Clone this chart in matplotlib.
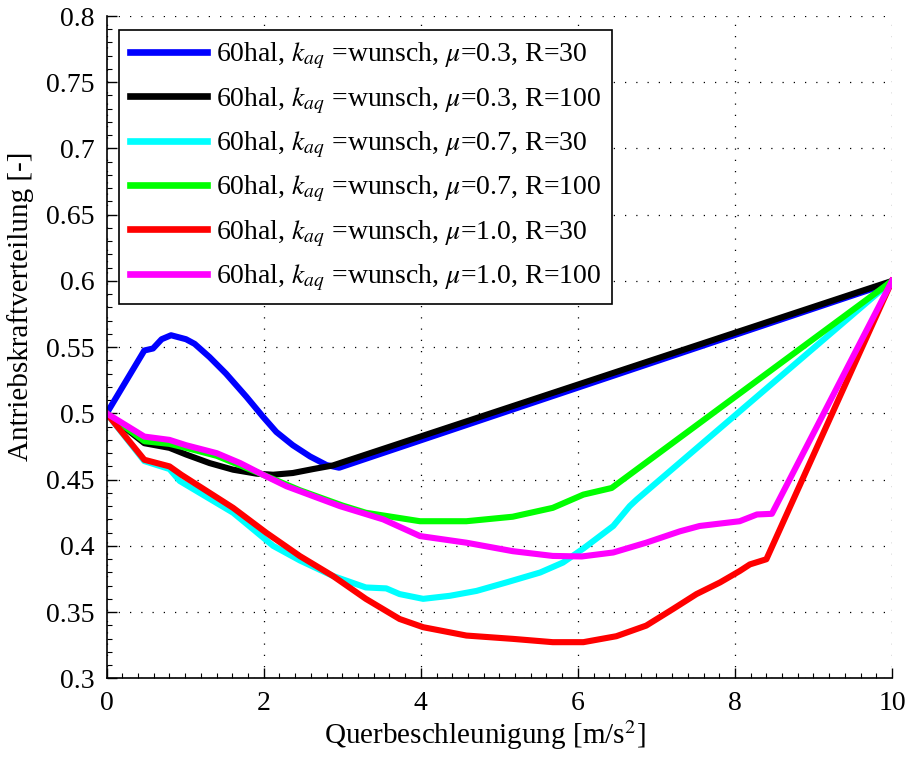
import matplotlib
matplotlib.use('Agg')
import matplotlib.pyplot as plt
from matplotlib.ticker import MultipleLocator

plt.rcParams['font.family'] = 'Liberation Serif'
plt.rcParams['mathtext.fontset'] = 'stix'
plt.rcParams['font.size'] = 20

# mu=0.3, R=30
x_b = [0, 0.48, 0.59, 0.70, 0.82, 1.01, 1.12, 1.31, 1.52, 1.78, 1.99, 2.16,
       2.37, 2.59, 2.80, 2.96, 10]
y_b = [0.5, 0.5475, 0.549, 0.556, 0.559, 0.556, 0.5525, 0.5425, 0.530,
       0.5125, 0.4975, 0.486, 0.476, 0.4675, 0.461, 0.459, 0.599]
# mu=0.3, R=100
x_k = [0, 0.48, 0.80, 1.01, 1.31, 1.61, 1.91, 2.12, 2.37, 2.63, 2.88, 10]
y_k = [0.5, 0.4775, 0.474, 0.469, 0.4625, 0.4575, 0.4545, 0.4537, 0.455,
       0.458, 0.4607, 0.6]
# mu=0.7, R=30
x_c = [0, 0.48, 0.80, 0.93, 1.61, 2.12, 2.46, 2.88, 3.30, 3.56, 3.73, 4.03,
       4.37, 4.71, 5.09, 5.52, 5.81, 6.07, 6.45, 6.66, 6.75, 10]
y_c = [0.5, 0.464, 0.458, 0.449, 0.425, 0.40, 0.389, 0.3773, 0.3686, 0.3679,
       0.3636, 0.36, 0.3623, 0.366, 0.3724, 0.3799, 0.3874, 0.398, 0.415,
       0.43, 0.435, 0.6]
# mu=0.7, R=100
x_g = [0, 0.48, 0.80, 1.01, 1.40, 2.0, 2.46, 3.0, 3.30, 3.99, 4.58, 5.17,
       5.68, 6.07, 6.43, 10]
y_g = [0.5, 0.479, 0.477, 0.474, 0.468, 0.4535, 0.442, 0.4305, 0.425,
       0.4186, 0.4186, 0.422, 0.4287, 0.4387, 0.4437, 0.6]
# mu=1.0, R=30
x_r = [0, 0.48, 0.80, 0.95, 1.61, 2.03, 2.46, 2.88, 3.30, 3.73, 4.03, 4.58,
       5.17, 5.68, 6.07, 6.49, 6.87, 7.21, 7.51, 7.81, 8.06, 8.19, 8.40, 10]
y_r = [0.5, 0.465, 0.46, 0.4537, 0.4287, 0.41, 0.3923, 0.3773, 0.36, 0.3448,
       0.3386, 0.3323, 0.3298, 0.3273, 0.3273, 0.3318, 0.3398, 0.3523,
       0.3636, 0.3724, 0.381, 0.386, 0.3899, 0.6]
# mu=1.0, R=100
x_m = [0, 0.48, 0.80, 1.01, 1.40, 1.70, 1.99, 2.29, 2.63, 2.97, 3.52, 3.99,
       4.58, 5.17, 5.68, 6.05, 6.45, 6.87, 7.30, 7.55, 8.06, 8.28, 8.47, 10]
y_m = [0.5, 0.4825, 0.48, 0.476, 0.47, 0.4625, 0.4537, 0.445, 0.4375, 0.43,
       0.42, 0.4074, 0.4024, 0.396, 0.3924, 0.392, 0.395, 0.4024, 0.411,
       0.415, 0.4186, 0.4237, 0.4242, 0.6]

labels = [
    r'60hal, $k_{aq}$ =wunsch, $\mu$=0.3, R=30',
    r'60hal, $k_{aq}$ =wunsch, $\mu$=0.3, R=100',
    r'60hal, $k_{aq}$ =wunsch, $\mu$=0.7, R=30',
    r'60hal, $k_{aq}$ =wunsch, $\mu$=0.7, R=100',
    r'60hal, $k_{aq}$ =wunsch, $\mu$=1.0, R=30',
    r'60hal, $k_{aq}$ =wunsch, $\mu$=1.0, R=100',
]
colors = ['#0000ff', '#000000', '#00ffff', '#00ff00', '#ff0000', '#ff00ff']
xs = [x_b, x_k, x_c, x_g, x_r, x_m]
ys = [y_b, y_k, y_c, y_g, y_r, y_m]
yticks = [0.3, 0.35, 0.4, 0.45, 0.5, 0.55, 0.6, 0.65, 0.7, 0.75, 0.8]
ytick_labels = ['0.3', '0.35', '0.4', '0.45', '0.5', '0.55', '0.6',
                '0.65', '0.7', '0.75', '0.8']

fig = plt.figure(figsize=(9.07, 7.62), dpi=100)
ax = fig.add_axes([0.1176, 0.1098, 0.8659, 0.8692])

for x, y, c, l in zip(xs, ys, colors, labels):
    ax.plot(x, y, color=c, linewidth=4.4, label=l, solid_joinstyle='round')

ax.set_xlim(0, 10)
ax.set_ylim(0.3, 0.8)
ax.xaxis.set_major_locator(MultipleLocator(2))
ax.xaxis.set_minor_locator(MultipleLocator(0.2))
ax.set_yticks(yticks)
ax.set_yticklabels(ytick_labels)
ax.yaxis.set_minor_locator(MultipleLocator(0.01))
ax.tick_params(which='major', direction='in', length=7, width=1, pad=9)
ax.tick_params(which='minor', direction='in', length=3.5, width=0.8)
ax.grid(True, which='major', linestyle=(0, (1, 8)), color='black',
        linewidth=0.9)
ax.spines['top'].set_visible(False)
ax.spines['right'].set_visible(False)
ax.spines['left'].set_linewidth(1.2)
ax.spines['bottom'].set_linewidth(1.2)

ax.set_xlabel(r'Querbeschleunigung [m/s$^2$]', fontsize=21, va='center')
ax.set_ylabel('Antriebskraftverteilung [-]', fontsize=21, va='center')
ax.xaxis.set_label_coords(0.482, -0.0856)
ax.yaxis.set_label_coords(-0.110, 0.561)

leg = ax.legend(loc='upper left', bbox_to_anchor=(0.016, 0.979),
                borderaxespad=0, fancybox=False, framealpha=1,
                edgecolor='black', handlelength=2.77, handletextpad=0.3,
                labelspacing=0.5, borderpad=0.4)
leg.get_frame().set_linewidth(1.2)
for line in leg.get_lines():
    line.set_linewidth(4.8)

fig.savefig('out.png', dpi=100)
